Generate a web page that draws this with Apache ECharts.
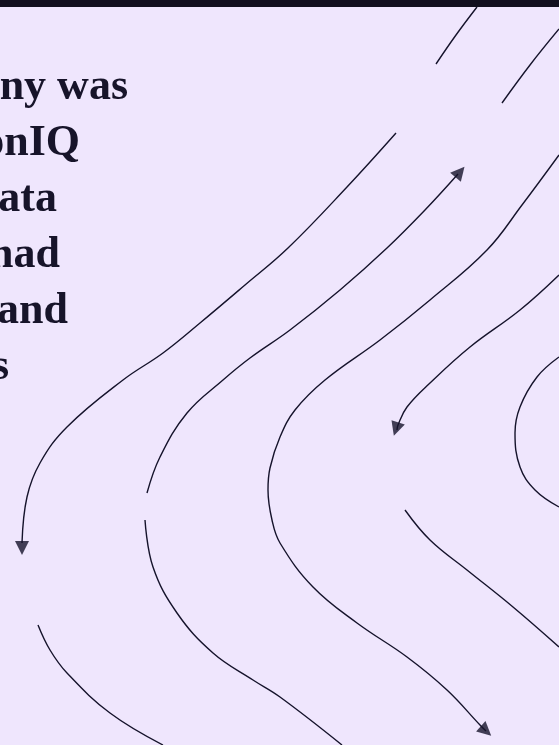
<!DOCTYPE html>
<html>
<head>
<meta charset="utf-8">
<script src="https://cdn.jsdelivr.net/npm/echarts@6/dist/echarts.min.js"></script>
<style>
html,body{margin:0;padding:0;background:#efe6fd;}
#c{width:559px;height:745px;}
</style>
</head>
<body>
<div id="c"></div>
<script>
// Text fragments (cut off at the left edge) and their line ends
const textLines = ["ny was", "onIQ", "ata", "had", "and", "s"];
const textEnds = [128, 80, 57, 60, 68, 9];
const textBaselines = [97, 153, 209, 265, 321, 377];

// Curves, [x, y] in pixel space
const seg1 = [[477,7],[456,35],[436,64]];
const seg2 = [[559,29],[530,65],[502,103]];
const curveA = [[396,133],[347,187],[288,248],[245,285],[200,323],[163,353],[123,380],[67,427],[40,463],[27,497],[22,543]];
const curveB1 = [[458,174],[425,210],[387,248],[340,290],[290,330],[250,358],[223,380],[187,413],[160,457],[147,493]];
const curveB2 = [[145,520],[153,567],[177,613],[213,653],[253,680],[280,697],[342,745]];
const curveC = [[559,155],[522,205],[487,250],[430,300],[380,340],[325,380],[295,410],[280,437],[270,468],[268,490],[272,520],[280,543],[313,587],[357,623],[407,657],[447,690],[480,725],[486,731]];
const curveD = [[559,275],[520,310],[470,347],[430,383],[407,407],[398,425],[397,430]];
const curveE = [[559,357],[537,377],[520,407],[515,433],[520,467],[535,490],[559,507]];
const curveF = [[405,510],[430,540],[467,570],[513,607],[559,647]];
const curveG = [[38,625],[50,650],[67,673],[110,713],[163,745]];
// Arrow heads: [x, y, rotation]
const arrows = [[22,548,180],[460,172,-40],[396,429,162],[486,731,-132]];

const ink = '#15132b';
const curves = [seg1, seg2, curveA, curveB1, curveB2, curveC, curveD, curveE, curveF, curveG];

const series = curves.map(c => ({
  type: 'line', data: c, smooth: 0.4, showSymbol: false, silent: true,
  lineStyle: {color: ink, width: 1.4}, z: 2
}));
series.push({
  type: 'scatter', symbol: 'triangle', symbolSize: [14, 14], silent: true, z: 3,
  itemStyle: {color: ink},
  data: arrows.map(a => ({value: [a[0], a[1]], symbolRotate: a[2]}))
});

const graphic = [{
  type: 'rect', left: 0, top: 0, shape: {width: 559, height: 7}, style: {fill: '#12101f'}, z: 10
}];
textLines.forEach((t, i) => {
  graphic.push({
    type: 'text', x: textEnds[i], y: textBaselines[i] + 13, z: 10,
    style: {text: t, textAlign: 'right', textVerticalAlign: 'bottom', fill: '#17142a',
      font: 'bold 44px "Liberation Serif", serif'}
  });
});

const chart = echarts.init(document.getElementById('c'));
chart.setOption({
  backgroundColor: '#efe6fd',
  animation: false,
  grid: {left: 0, right: 0, top: 0, bottom: 0},
  xAxis: {type: 'value', min: 0, max: 559, show: false},
  yAxis: {type: 'value', min: 0, max: 745, inverse: true, show: false},
  series: series,
  graphic: graphic
});
</script>
</body>
</html>
